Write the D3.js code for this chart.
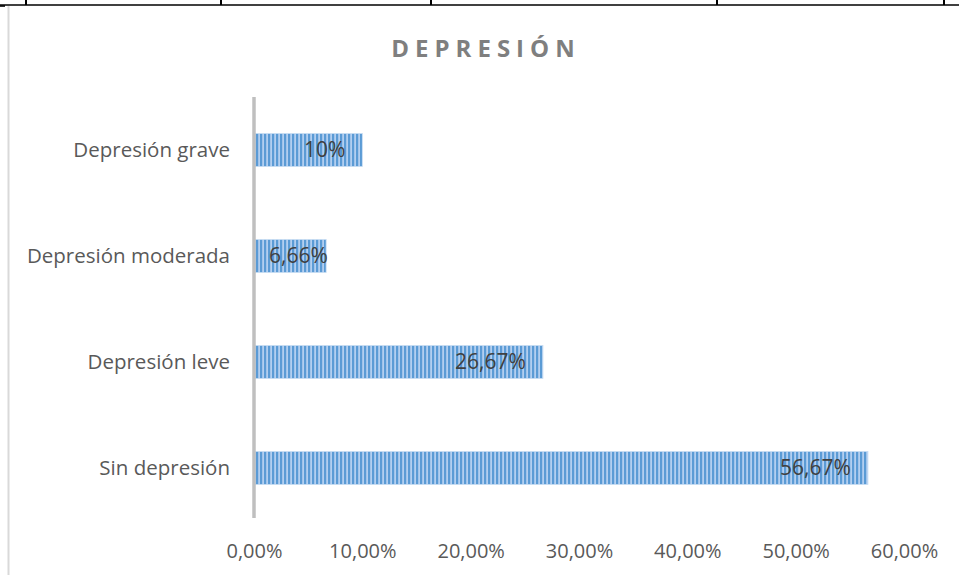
<!DOCTYPE html>
<html>
<head>
<meta charset="utf-8">
<script src="https://cdn.jsdelivr.net/npm/d3@7"></script>
<style>
  html, body { margin: 0; padding: 0; background: #ffffff; }
  svg { display: block; }
</style>
</head>
<body>
<svg id="chart" width="959" height="575"></svg>
<script>
// Depression levels (bottom to top) and their share of respondents, in %
const categories = ["Sin depresión", "Depresión leve", "Depresión moderada", "Depresión grave"];
const values = [56.67, 26.67, 6.66, 10];
const xTicks = [0, 10, 20, 30, 40, 50, 60];
const title = "DEPRESIÓN";

const svg = d3.select("#chart");
const W = 959, H = 575;
const font = "'Open Sans', 'DejaVu Sans', sans-serif";

const es = d3.formatLocale({ decimal: ",", thousands: ".", grouping: [3], currency: ["", " €"] });
const tickFmt = v => es.format(".2f")(v) + "%";
const valueFmt = v => String(v).replace(".", ",") + "%";

// Bottom edge of the table row above the chart
svg.append("line").attr("x1", 0).attr("x2", W).attr("y1", 5).attr("y2", 5)
  .attr("stroke", "#000").attr("stroke-width", 1.6);
svg.append("line").attr("x1", 0).attr("x2", 5).attr("y1", 6).attr("y2", 6)
  .attr("stroke", "#000").attr("stroke-width", 1.6);
[26, 221, 431, 717, 944].forEach(xc => {
  svg.append("line").attr("x1", xc).attr("x2", xc).attr("y1", 0).attr("y2", 5)
    .attr("stroke", "#000").attr("stroke-width", 2);
});

// Chart frame (left edge)
svg.append("line").attr("x1", 8.5).attr("x2", 8.5).attr("y1", 6).attr("y2", H)
  .attr("stroke", "#d9d9d9").attr("stroke-width", 2);

// Striped bar fill
const defs = svg.append("defs");
const pat = defs.append("pattern").attr("id", "stripes")
  .attr("patternUnits", "userSpaceOnUse").attr("width", 4).attr("height", 4);
pat.append("rect").attr("width", 4).attr("height", 4).attr("fill", "#b3cff0");
pat.append("rect").attr("width", 2.2).attr("height", 4).attr("fill", "#5b9bd5");

// Scales
const x = d3.scaleLinear().domain([0, 60]).range([254, 904]);
const y = d3.scaleBand().domain(categories.slice().reverse())
  .range([97, 521]).paddingInner(0.69).paddingOuter(0.345);

// Title
svg.append("text").attr("x", 486).attr("y", 57).attr("text-anchor", "middle")
  .attr("font-family", font).attr("font-weight", "bold").attr("font-size", 24)
  .attr("letter-spacing", 6).attr("fill", "#7f7f7f").text(title);

// Bars
const rows = categories.map((c, i) => ({ c, v: values[i] }));
svg.selectAll("rect.bar").data(rows).join("rect").attr("class", "bar")
  .attr("x", x(0)).attr("y", d => y(d.c))
  .attr("width", d => x(d.v) - x(0)).attr("height", y.bandwidth())
  .attr("fill", "url(#stripes)").attr("stroke", "#c5dbf2").attr("stroke-width", 0.8);

// Value labels at the inside end of each bar
svg.selectAll("text.val").data(rows).join("text").attr("class", "val")
  .attr("font-family", font).attr("font-size", 21).attr("fill", "#404040")
  .attr("y", d => y(d.c) + y.bandwidth() / 2).attr("dy", "0.35em")
  .text(d => valueFmt(d.v))
  .each(function (d) {
    const w = this.getComputedTextLength();
    const end = Math.max(x(d.v) - 17, x(0) + 15 + w);
    d3.select(this).attr("x", end).attr("text-anchor", "end");
  });

// Category axis line and labels
svg.append("line").attr("x1", x(0)).attr("x2", x(0)).attr("y1", 97).attr("y2", 518)
  .attr("stroke", "#bfbfbf").attr("stroke-width", 3.5);
svg.selectAll("text.cat").data(categories).join("text").attr("class", "cat")
  .attr("x", 230).attr("y", d => y(d) + y.bandwidth() / 2).attr("dy", "0.35em")
  .attr("text-anchor", "end").attr("font-family", font).attr("font-size", 20.5)
  .attr("fill", "#595959").text(d => d);

// Value axis labels
const xAxis = d3.axisBottom(x).tickValues(xTicks).tickFormat(tickFmt).tickSize(0).tickPadding(0);
const gx = svg.append("g").attr("transform", "translate(0,544)").call(xAxis);
gx.select(".domain").remove();
gx.selectAll("text").attr("font-family", font).attr("font-size", 20)
  .attr("fill", "#595959").attr("dy", "0.71em");
</script>
</body>
</html>
